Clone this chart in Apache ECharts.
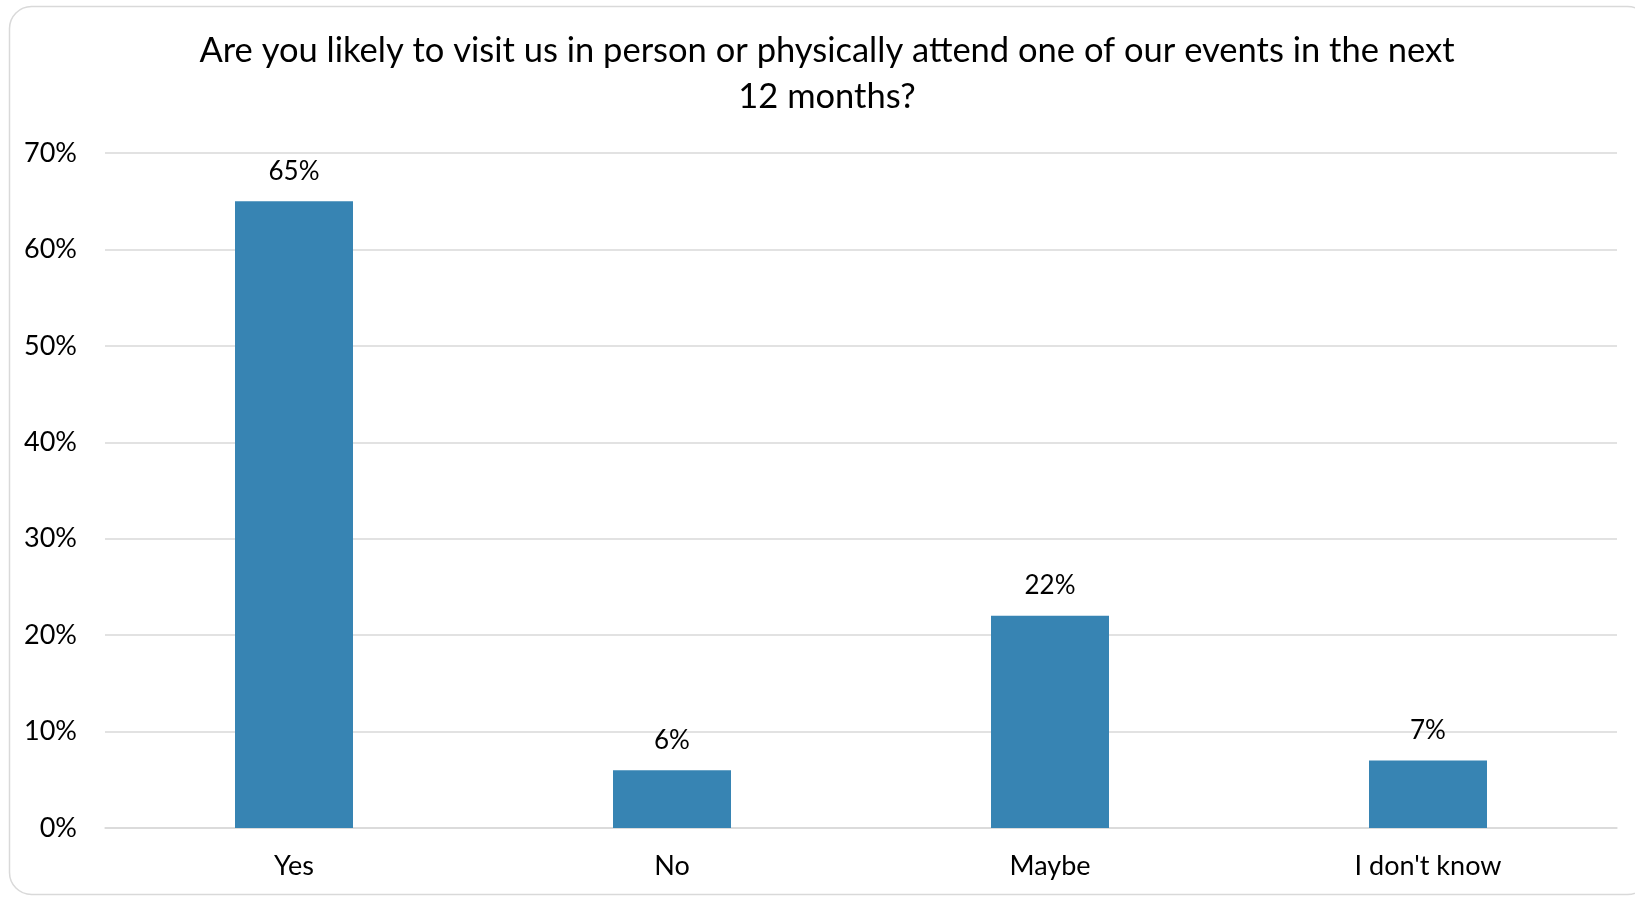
<!DOCTYPE html>
<html>
<head>
<meta charset="utf-8">
<style>
  html, body { margin: 0; padding: 0; background: #ffffff; }
  #chart { width: 1635px; height: 897px; }
</style>
<script src="https://cdn.jsdelivr.net/npm/echarts@6/dist/echarts.min.js"></script>
</head>
<body>
<div id="chart"></div>
<script>
// Survey answers and their shares (%)
const titleText = 'Are you likely to visit us in person or physically attend one of our events in the next\n12 months?';
const categories = ['Yes', 'No', 'Maybe', "I don't know"];
const shares = [65, 6, 22, 7];
const yTicks = { min: 0, max: 70, interval: 10 };

const FONT = 'Lato';
const chart = echarts.init(document.getElementById('chart'), null, { renderer: 'canvas' });

chart.setOption({
  backgroundColor: '#ffffff',
  animation: false,
  textStyle: { fontFamily: FONT, color: '#000000' },
  graphic: [{
    type: 'rect',
    shape: { x: 9.5, y: 6.5, width: 1640, height: 888, r: 22 },
    style: { fill: 'none', stroke: '#d9d9d9', lineWidth: 1.5 },
    silent: true,
    z: -1
  }],
  title: {
    text: titleText,
    left: 822,
    textAlign: 'center',
    top: 23,
    textStyle: { fontFamily: FONT, fontSize: 34.5, fontWeight: 'normal', color: '#000000', lineHeight: 46 }
  },
  grid: { left: 105, right: 18, top: 153, bottom: 69, containLabel: false },
  xAxis: {
    type: 'category',
    data: categories,
    axisLine: { show: true, lineStyle: { color: '#d9d9d9', width: 1.5 } },
    axisTick: { show: false },
    axisLabel: { fontFamily: FONT, fontSize: 27, color: '#000000', margin: 25 },
    splitLine: { show: false }
  },
  yAxis: {
    type: 'value',
    min: yTicks.min,
    max: yTicks.max,
    interval: yTicks.interval,
    axisLine: { show: false },
    axisTick: { show: false },
    axisLabel: { fontFamily: FONT, fontSize: 27, color: '#000000', margin: 28, formatter: '{value}%' },
    splitLine: { show: true, lineStyle: { color: '#d9d9d9', width: 1.5 } }
  },
  series: [{
    type: 'bar',
    data: shares,
    barWidth: 118,
    itemStyle: { color: '#3784b3' },
    label: {
      show: true,
      position: 'top',
      distance: 17,
      fontFamily: FONT,
      fontSize: 26,
      color: '#000000',
      formatter: p => p.value + '%'
    }
  }]
});
</script>
</body>
</html>
